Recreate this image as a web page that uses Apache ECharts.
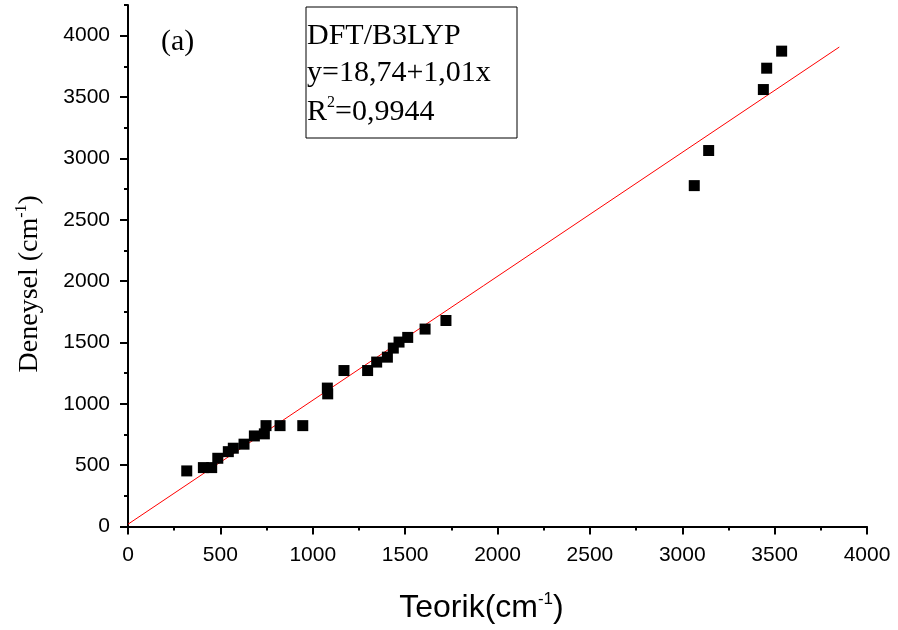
<!DOCTYPE html>
<html>
<head>
<meta charset="utf-8">
<script src="https://cdn.jsdelivr.net/npm/echarts@6/dist/echarts.min.js"></script>
<style>
  html, body { margin: 0; padding: 0; background: #fff; }
  #chart { width: 898px; height: 630px; }
</style>
</head>
<body>
<div id="chart"></div>
<script>
// Theoretical (B3LYP) vs experimental wavenumbers, cm^-1
var teorik = [318, 408, 453, 486, 543, 570, 628, 684, 738, 747, 823, 946,
              1079, 1081, 1169, 1297, 1346, 1404, 1436, 1467, 1514, 1608, 1721,
              3065, 3143, 3439, 3457, 3538];
var deneysel = [453, 480, 480, 556, 610, 638, 671, 738, 755, 822, 822, 822,
                1128, 1081, 1271, 1271, 1340, 1380, 1454, 1503, 1541, 1609, 1679,
                2778, 3064, 3561, 3735, 3874];

// Linear fit y = a + b x
var fitIntercept = 18.74;
var fitSlope = 1.01;
var fitRange = [0, 3850];
var fitLabel = ['DFT/B3LYP', 'y=18,74+1,01x', '0,9944'];

var xTicks = [0, 500, 1000, 1500, 2000, 2500, 3000, 3500, 4000];
var yTicks = [0, 500, 1000, 1500, 2000, 2500, 3000, 3500, 4000];

var points = teorik.map(function (x, i) { return [x, deneysel[i]]; });
var fitLine = fitRange.map(function (x) { return [x, fitIntercept + fitSlope * x]; });

var SANS = '"Liberation Sans", Arial, sans-serif';
var SERIF = '"Liberation Serif", "Times New Roman", serif';

var chart = echarts.init(document.getElementById('chart'), null, { renderer: 'canvas' });

var plain = function (v) { return String(v); };
var tickLabel = { color: '#000', fontFamily: SANS, fontSize: 21, formatter: plain };

chart.setOption({
  animation: false,
  backgroundColor: '#fff',
  grid: { left: 128, right: 31, top: 5, bottom: 103.5, containLabel: false },
  xAxis: {
    type: 'value',
    min: 0, max: 4000, interval: 500,
    name: '{t|Teorik(cm}{s|-1}{t|)}',
    nameLocation: 'middle',
    nameGap: 64,
    nameTextStyle: {
      padding: [0, 32, 0, 0],
      rich: {
        t: { fontFamily: SANS, fontSize: 32, color: '#000', lineHeight: 36 },
        s: { fontFamily: SANS, fontSize: 17, color: '#000', verticalAlign: 'top', lineHeight: 36 }
      }
    },
    axisLine: { show: true, onZero: false, lineStyle: { color: '#000', width: 2 } },
    axisTick: { show: true, length: 8, lineStyle: { color: '#000', width: 2 } },
    minorTick: { show: true, splitNumber: 2, length: 4, lineStyle: { color: '#000', width: 2 } },
    axisLabel: Object.assign({ margin: 18, customValues: xTicks }, tickLabel),
    splitLine: { show: false },
    minorSplitLine: { show: false }
  },
  yAxis: [{
    type: 'value',
    position: 'left',
    min: 0, max: 4250, interval: 500,
    name: '{t|Deneysel (cm}{s|-1}{t|)}',
    nameLocation: 'middle',
    nameGap: 83,
    nameTextStyle: {
      padding: [0, 36, 0, 0],
      rich: {
        t: { fontFamily: SERIF, fontSize: 28, color: '#000', lineHeight: 31 },
        s: { fontFamily: SERIF, fontSize: 16, color: '#000', verticalAlign: 'top', lineHeight: 31 }
      }
    },
    axisLine: { show: true, onZero: false, lineStyle: { color: '#000', width: 2 } },
    axisTick: { show: true, length: 8, customValues: yTicks, lineStyle: { color: '#000', width: 2 } },
    axisLabel: Object.assign({ margin: 18, customValues: yTicks }, tickLabel),
    splitLine: { show: false }
  }, {
    // minor ticks every 250
    type: 'value',
    position: 'left',
    min: 0, max: 4250, interval: 250,
    axisLine: { show: false },
    axisTick: { show: true, length: 4, lineStyle: { color: '#000', width: 2 } },
    axisLabel: { show: false },
    splitLine: { show: false }
  }],
  series: [{
    type: 'line',
    data: fitLine,
    showSymbol: false,
    silent: true,
    z: 1,
    lineStyle: { color: '#ff0000', width: 1 }
  }, {
    type: 'scatter',
    data: points,
    symbol: 'rect',
    symbolSize: 11,
    z: 2,
    itemStyle: { color: '#000', opacity: 1 }
  }],
  graphic: [{
    type: 'text',
    x: 161, y: 27,
    style: { text: '(a)', font: '30px ' + SERIF, fill: '#000' }
  }, {
    type: 'rect',
    shape: { x: 306, y: 7, width: 211, height: 131 },
    style: { fill: 'none', stroke: '#000', lineWidth: 1 }
  }, {
    type: 'text',
    x: 307, y: 21,
    style: { text: fitLabel[0], font: '30px ' + SERIF, fill: '#000' }
  }, {
    type: 'text',
    x: 307, y: 58,
    style: { text: fitLabel[1], font: '30px ' + SERIF, fill: '#000' }
  }, {
    type: 'text',
    x: 307, y: 95,
    style: {
      text: '{t|R}{s|2}{t|=' + fitLabel[2] + '}',
      rich: {
        t: { fontFamily: SERIF, fontSize: 30, color: '#000', lineHeight: 34 },
        s: { fontFamily: SERIF, fontSize: 16, color: '#000', verticalAlign: 'top', lineHeight: 34 }
      }
    }
  }]
});
</script>
</body>
</html>
